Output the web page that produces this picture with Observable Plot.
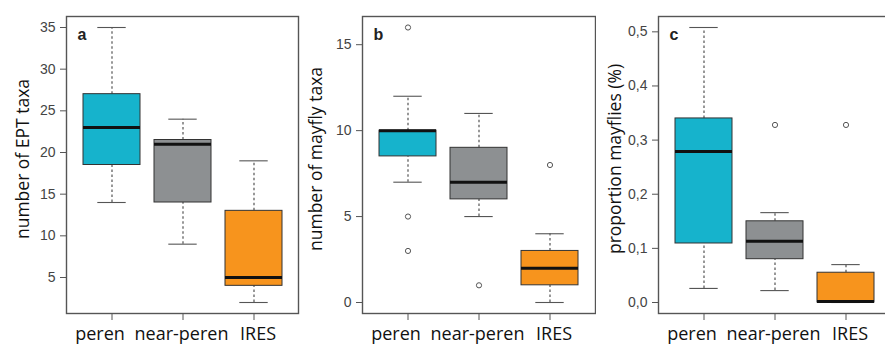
<!DOCTYPE html>
<html>
<head>
<meta charset="utf-8">
<script src="https://cdn.jsdelivr.net/npm/d3@7"></script>
<script src="https://cdn.jsdelivr.net/npm/@observablehq/plot@0.6"></script>
<style>
  html, body { margin: 0; padding: 0; background: white; overflow: hidden; }
  #wrap { display: flex; width: 890px; }
</style>
</head>
<body>
<div id="wrap"></div>
<script>
// ---- data ----
const groups = ["peren", "near-peren", "IRES"];

// panel a: number of EPT taxa
const eptLow  = [14, 9, 2];
const eptQ1   = [18.5, 14, 4];
const eptMed  = [23, 21, 5];
const eptQ3   = [27, 21.5, 13];
const eptHigh = [35, 24, 19];
const eptOutGroup = [];
const eptOutValue = [];
const eptTicks = [5, 10, 15, 20, 25, 30, 35];

// panel b: number of mayfly taxa
const mayLow  = [7, 5, 0];
const mayQ1   = [8.5, 6, 1];
const mayMed  = [10, 7, 2];
const mayQ3   = [10, 9, 3];
const mayHigh = [12, 11, 4];
const mayOutGroup = ["peren", "peren", "peren", "near-peren", "IRES"];
const mayOutValue = [16, 5, 3, 1, 8];
const mayTicks = [0, 5, 10, 15];

// panel c: proportion mayflies
const propLow  = [0.026, 0.022, 0];
const propQ1   = [0.109, 0.08, 0];
const propMed  = [0.279, 0.113, 0.002];
const propQ3   = [0.34, 0.15, 0.055];
const propHigh = [0.508, 0.166, 0.07];
const propOutGroup = ["near-peren", "IRES"];
const propOutValue = [0.328, 0.328];
const propTicks = [0, 0.1, 0.2, 0.3, 0.4, 0.5];

const panelLetters = ["a", "b", "c"];
const yTitles = ["number of EPT taxa", "number of mayfly taxa", "proportion mayflies (%)"];

// ---- styles ----
const boxColors = {"peren": "#16b3cc", "near-peren": "#8d9092", "IRES": "#f7941d"};
const labelShift = {"peren": -12, "near-peren": -1.5, "IRES": 4};

function rows(low, q1, med, q3, high) {
  return groups.map((g, i) => ({group: g, low: low[i], q1: q1[i], med: med[i], q3: q3[i], high: high[i]}));
}
function outRows(gs, vs) {
  return gs.map((g, i) => ({group: g, value: vs[i]}));
}
function extent(lo, hi) {
  const pad = (hi - lo) * 0.04;
  return [lo - pad, hi + pad];
}

function panel({data, outs, ticks, fmt, letter, title, width, marginLeft, marginRight, titleOffset}) {
  const all = data.flatMap(d => [d.low, d.high]).concat(outs.map(d => d.value));
  const dom = extent(d3.min(all), d3.max(all));
  const xLabels = groups.map(g => Plot.text([g], {
    x: d => d, text: d => d, frameAnchor: "bottom", dx: labelShift[g], dy: 13.5,
    lineAnchor: "top", textAnchor: "middle", fontSize: 18, fontFamily: "Open Sans, sans-serif", fill: "#111"
  }));
  return Plot.plot({
    width, height: 345,
    marginLeft, marginRight, marginTop: 16, marginBottom: 32,
    style: {fontFamily: "Liberation Sans, Arial, sans-serif", fontSize: "14px", overflow: "visible", background: "white"},
    x: {type: "band", domain: groups, paddingInner: 0.2, paddingOuter: 0.2265},
    y: {domain: dom},
    color: {type: "identity"},
    marks: [
      // whiskers (dashed)
      Plot.ruleX(data, {x: "group", y1: "q3", y2: "high", stroke: "#444", strokeWidth: 1.1, strokeDasharray: "2.5,2.5"}),
      Plot.ruleX(data, {x: "group", y1: "low", y2: "q1", stroke: "#444", strokeWidth: 1.1, strokeDasharray: "2.5,2.5"}),
      // caps
      Plot.tickY(data, {x: "group", y: "high", stroke: "#555", strokeWidth: 1.1, insetLeft: 14.3, insetRight: 14.3}),
      Plot.tickY(data, {x: "group", y: "low", stroke: "#555", strokeWidth: 1.1, insetLeft: 14.3, insetRight: 14.3}),
      // boxes
      Plot.barY(data, {x: "group", y1: "q1", y2: "q3", fill: d => boxColors[d.group], stroke: "#333", strokeWidth: 1}),
      // medians
      Plot.tickY(data, {x: "group", y: "med", stroke: "#111", strokeWidth: 3}),
      // outliers
      Plot.dot(outs, {x: "group", y: "value", r: 2.6, stroke: "#555", strokeWidth: 1, fill: "none"}),
      // frame
      Plot.frame({stroke: "#555", strokeWidth: 1.4}),
      // axes
      Plot.axisY({ticks, tickFormat: fmt, tickSize: 6, tickPadding: 5, fontSize: 14, fill: "#444", stroke: "#555", label: null}),
      Plot.axisX({tickSize: 7, tickFormat: () => "", stroke: "#555", label: null}),
      ...xLabels,
      // y title
      Plot.text([title], {frameAnchor: "left", rotate: -90, dx: -titleOffset, dy: -6, lineAnchor: "top", textAnchor: "middle", fontSize: 17.5, fontFamily: "Open Sans, sans-serif", fill: "#111"}),
      // panel letter
      Plot.text([letter], {frameAnchor: "top-left", dx: 11, dy: 12, lineAnchor: "top", textAnchor: "start", fontSize: 16, fontWeight: "bold", fill: "#222"})
    ]
  });
}

const commaFmt = d => d.toFixed(1).replace(".", ",");
const wrap = document.getElementById("wrap");
wrap.append(panel({
  data: rows(eptLow, eptQ1, eptMed, eptQ3, eptHigh), outs: outRows(eptOutGroup, eptOutValue),
  ticks: eptTicks, fmt: d => String(d), letter: panelLetters[0], title: yTitles[0],
  width: 300, marginLeft: 66, marginRight: 2, titleOffset: 50
}));
wrap.append(panel({
  data: rows(mayLow, mayQ1, mayMed, mayQ3, mayHigh), outs: outRows(mayOutGroup, mayOutValue),
  ticks: mayTicks, fmt: d => String(d), letter: panelLetters[1], title: yTitles[1],
  width: 296, marginLeft: 62, marginRight: 1, titleOffset: 53
}));
wrap.append(panel({
  data: rows(propLow, propQ1, propMed, propQ3, propHigh), outs: outRows(propOutGroup, propOutValue),
  ticks: propTicks, fmt: commaFmt, letter: panelLetters[2], title: yTitles[2],
  width: 294, marginLeft: 62, marginRight: 0, titleOffset: 50
}));
</script>
</body>
</html>
